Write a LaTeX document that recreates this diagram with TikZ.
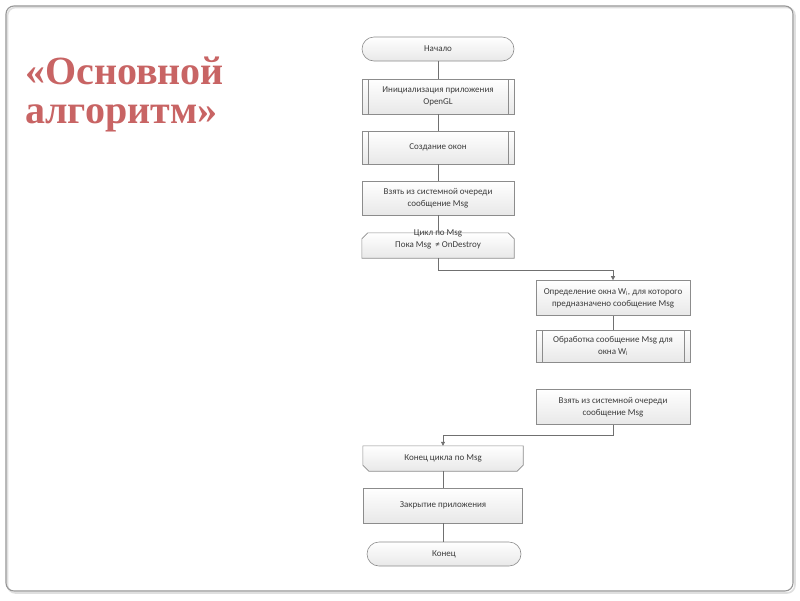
\documentclass[tikz,border=0pt]{standalone}
\usepackage{fontspec}
\setmainfont{Liberation Serif}
\newfontfamily\boxfont{Carlito}
\usetikzlibrary{arrows.meta}
\definecolor{titlered}{RGB}{200,100,100}
\definecolor{edge}{RGB}{140,140,140}
\definecolor{boxtext}{RGB}{60,60,60}
\definecolor{boxbot}{RGB}{232,232,232}
\definecolor{framec}{RGB}{150,150,150}
\begin{document}
\begin{tikzpicture}[x=1pt,y=-1pt,
  txt/.style={text=boxtext, font=\boxfont\fontsize{9}{12}\selectfont, align=center, inner sep=0pt},
  shade/.style={top color=white, bottom color=boxbot},
  base/.style={txt, draw=edge, line width=0.6pt, shade},
  term/.style={base, rounded corners=12pt, minimum width=152pt, minimum height=24pt},
  proc/.style={base, rectangle, minimum width=152pt, minimum height=#1},
  pre/.style={proc=#1, path picture={
    \draw[edge, line width=0.6pt]
      ([xshift=6pt]path picture bounding box.north west) -- ([xshift=6pt]path picture bounding box.south west)
      ([xshift=-6pt]path picture bounding box.north east) -- ([xshift=-6pt]path picture bounding box.south east);}},
  loopbox/.style={txt, rectangle, minimum width=152pt, minimum height=25pt},
  outline/.style={draw=edge, line width=0.6pt, shade},
  conn/.style={draw=edge!80!black, line width=0.6pt},
  arr/.style={conn, -{Triangle[length=4pt,width=4pt]}},
  title/.style={anchor=base west, inner sep=0pt, text=titlered, font=\bfseries\fontsize{40}{40}\selectfont}
]
\useasboundingbox (0,0) rectangle (800,600);
\fill[white] (0,0) rectangle (800,600);
% slide frame
\draw[gray!25, line width=1.6pt, rounded corners=8pt] (7.5,7.5) rectangle (795,593);
\draw[framec, line width=1.1pt, rounded corners=8pt] (6,6) rectangle (793,591);
% title
\node[title] (t1) at (25,84) {«Основной};
\node[title] (t2) at (25,123) {алгоритм»};
% main column
\node[term] (n1) at (438,49) {Начало};
\node[pre=35pt] (n2) at (438,96.5) {Инициализация приложения\\OpenGL};
\node[pre=33pt] (n3) at (438,147.5) {Создание окон};
\node[proc=34pt] (n4) at (438,198) {Взять из системной очереди\\сообщение Msg};
\node[loopbox] (n5) at (438,245.5) {};
\draw[outline] (n5.south west) -- ([yshift=-6pt]n5.north west) -- ([xshift=6pt]n5.north west)
  -- ([xshift=-6pt]n5.north east) -- ([yshift=-6pt]n5.north east) -- (n5.south east) -- cycle;
\node[txt] (n5t) at (438,239) {Цикл по Msg\\Пока Msg \ ≠ OnDestroy};
% right column
\node[base, rectangle, minimum width=154pt, minimum height=35pt] (n6) at (613,298) {Определение окна W\textsubscript{i}, для которого\\предназначено сообщение Msg};
\node[pre=32pt, minimum width=154pt] (n7) at (613,346) {Обработка сообщение Msg для\\окна W\textsubscript{i}};
\node[base, rectangle, minimum width=154pt, minimum height=35pt] (n8) at (613,407) {Взять из системной очереди\\сообщение Msg};
% lower column
\node[loopbox, minimum width=160pt] (n9) at (443,458.5) {};
\draw[outline] (n9.north west) -- ([yshift=6pt]n9.south west) -- ([xshift=6pt]n9.south west)
  -- ([xshift=-6pt]n9.south east) -- ([yshift=6pt]n9.south east) -- (n9.north east) -- cycle;
\node[txt] (n9t) at (n9.center) {Конец цикла по Msg};
\node[proc=35pt, minimum width=159pt] (n10) at (443,505.5) {Закрытие приложения};
\node[term, minimum width=154pt] (n11) at (444,554) {Конец};
\coordinate (c1) at (438,270);
\coordinate (c2) at (613,270);
\coordinate (c3) at (613,435);
\coordinate (c4) at (443,435);
% connectors
\draw[conn] (n1) -- (n2);
\draw[conn] (n2) -- (n3);
\draw[conn] (n3) -- (n4);
\draw[conn] (n4) -- (n5);
\draw[arr] (n5.south) -- (c1) -- (c2) -- (n6.north);
\draw[conn] (n6) -- (n7);
\draw[arr] (n8.south) -- (c3) -- (c4) -- (n9.north);
\draw[conn] (n9) -- (n10);
\draw[conn] (n10.south) -- (n10.south |- n11.north);
\end{tikzpicture}
\end{document}
